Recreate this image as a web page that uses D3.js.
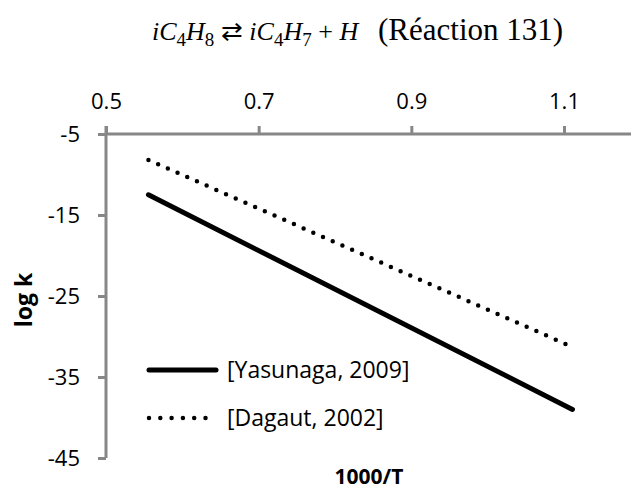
<!DOCTYPE html>
<html>
<head>
<meta charset="utf-8">
<script src="https://cdn.jsdelivr.net/npm/d3@7"></script>
<style>
  html, body { margin: 0; padding: 0; background: #fff; }
  svg { display: block; }
</style>
</head>
<body>
<svg id="chart" width="631" height="489"></svg>
<script>
// Rate constants of iC4H8 <=> iC4H7 + H, plotted against 1000/T (T = 1800 K .. 900 K)
const invT = [0.5556, 1.1111];
const yasunaga = [-12.5, -39.0];
const dagaut = [-8.2, -31.3];

const seriesNames = ["[Yasunaga, 2009]", "[Dagaut, 2002]"];
const xTicks = [0.5, 0.7, 0.9, 1.1];
const yTicks = [-5, -15, -25, -35, -45];

const svg = d3.select("#chart");
const axisColor = "#878787";
const labelFont = "'Open Sans', sans-serif";

const x = d3.scaleLinear().domain([0.5, 1.1]).range([106, 564]);
const y = d3.scaleLinear().domain([-5, -45]).range([134, 458]);

// Title: chemical equation (math italic) followed by the reaction number
const title = svg.append("text")
  .attr("x", 152).attr("y", 40)
  .attr("font-family", "'Liberation Serif', serif")
  .attr("font-size", 26)
  .attr("fill", "#000");
[["i", 1], ["C", 1], ["4", 0, 1], ["H", 1], ["8", 0, 1], [" \u21C4 ", 0], ["i", 1], ["C", 1], ["4", 0, 1], ["H", 1], ["7", 0, 1], [" + ", 0], ["H", 1]]
  .forEach(([txt, it, sb], i, arr) => {
    const t = title.append("tspan").text(txt);
    if (it) t.attr("font-style", "italic");
    if (sb) t.attr("font-size", 19);
    const prevSub = i > 0 && arr[i - 1][2];
    if (sb && !prevSub) t.attr("dy", 6);
    if (!sb && prevSub) t.attr("dy", -6);
  });
svg.append("text")
  .attr("x", 378).attr("y", 40)
  .attr("font-family", "'Liberation Serif', serif")
  .attr("font-size", 31)
  .attr("fill", "#000")
  .text("(Réaction 131)");

// Plain hyphen-minus for negative tick labels
const fmtY = d => String(d);

// Top x axis
const xAxis = d3.axisTop(x).tickValues(xTicks).tickSize(8).tickPadding(17)
  .tickFormat(d3.format(".1f"));
const gx = svg.append("g").attr("transform", "translate(0,134)").call(xAxis);
gx.select(".domain").attr("d", `M106,0H640`);
// Left y axis
const yAxis = d3.axisLeft(y).tickValues(yTicks).tickSize(8).tickPadding(18)
  .tickFormat(fmtY);
const gy = svg.append("g").attr("transform", "translate(106,0)").call(yAxis);
gy.select(".domain").attr("d", `M0,126V458`);

[gx, gy].forEach(g => {
  g.select(".domain").attr("stroke", axisColor).attr("stroke-width", 3).attr("fill", "none");
  g.selectAll(".tick line").attr("stroke", axisColor).attr("stroke-width", 3);
  g.selectAll(".tick text").attr("font-family", labelFont).attr("font-size", 22).attr("fill", "#000");
});
gy.selectAll(".tick text").attr("dy", "0.35em");

// Axis titles
svg.append("text")
  .attr("x", 369).attr("y", 484)
  .attr("text-anchor", "middle")
  .attr("font-family", labelFont).attr("font-weight", "bold").attr("font-size", 21)
  .text("1000/T");
svg.append("text")
  .attr("transform", "translate(32,300) rotate(-90)")
  .attr("text-anchor", "middle")
  .attr("font-family", labelFont).attr("font-weight", "bold").attr("font-size", 23)
  .text("log k");

// Series lines
const line = d3.line().x(d => x(d[0])).y(d => y(d[1]));
const styles = [
  { width: 5, dash: null },
  { width: 4.5, dash: "0,10.6" }
];
[yasunaga, dagaut].forEach((vals, i) => {
  svg.append("path")
    .datum(invT.map((v, j) => [v, vals[j]]))
    .attr("d", line)
    .attr("fill", "none")
    .attr("stroke", "#000")
    .attr("stroke-width", styles[i].width)
    .attr("stroke-linecap", "round")
    .attr("stroke-dasharray", styles[i].dash);
});

// Legend
const legend = svg.append("g");
seriesNames.forEach((name, i) => {
  const ly = 370 + i * 48;
  legend.append("line")
    .attr("x1", 149).attr("x2", i === 0 ? 216 : 210)
    .attr("y1", ly).attr("y2", ly)
    .attr("stroke", "#000")
    .attr("stroke-width", styles[i].width)
    .attr("stroke-linecap", "round")
    .attr("stroke-dasharray", i === 0 ? null : "0,11.3");
  legend.append("text")
    .attr("x", 227).attr("y", ly).attr("dy", "0.35em")
    .attr("font-family", labelFont).attr("font-size", 23)
    .attr("fill", "#000")
    .text(name);
});
</script>
</body>
</html>
